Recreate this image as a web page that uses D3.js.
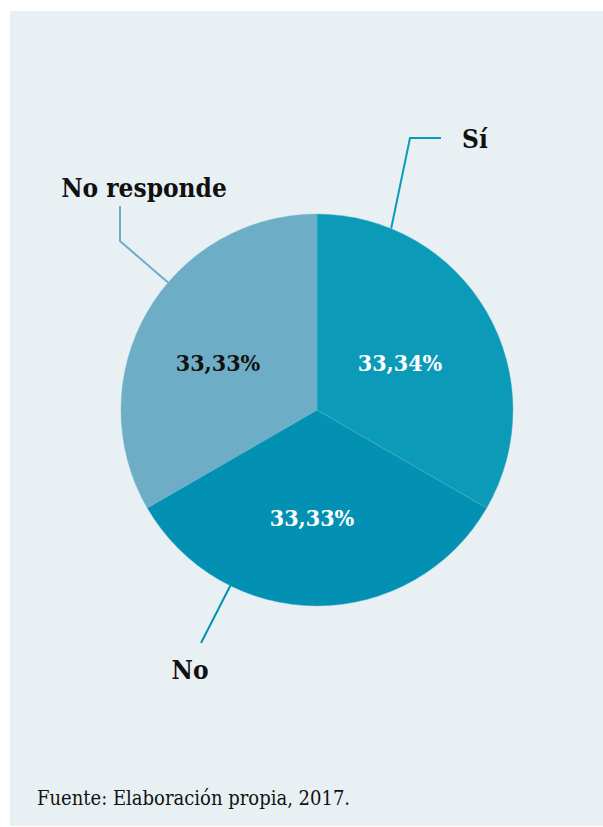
<!DOCTYPE html>
<html lang="es">
<head>
    <meta charset="UTF-8">
    <title>Gráfico circular</title>
    <script src="https://d3js.org/d3.v7.min.js"></script>
    <style>
        body { margin: 0; background: #fff; }
        text { font-stretch: condensed; }
    </style>
</head>
<body>
    <svg width="603" height="827"></svg>
    <script>
        // datos
        const categories = ["Sí", "No", "No responde"];
        const values = [33.34, 33.33, 33.33];
        const pctLabels = ["33,34%", "33,33%", "33,33%"];
        const colors = ["#0c9ab9", "#0291b3", "#6daec6"];
        const labelColors = ["#fff", "#fff", "#111"];

        const serif = "'DejaVu Serif Condensed', 'DejaVu Serif', serif";

        const svg = d3.select("svg");
        svg.append("rect")
           .attr("x", 10).attr("y", 11)
           .attr("width", 593).attr("height", 815)
           .attr("fill", "#e8f0f3");

        const cx = 317, cy = 410, r = 196;
        const g = svg.append("g").attr("transform", `translate(${cx},${cy})`);

        const data = categories.map((c, i) => ({ cat: c, value: values[i], i }));
        const pie = d3.pie().value(d => d.value).sort(null);
        const arcs = pie(data);
        const arc = d3.arc().innerRadius(0).outerRadius(r);

        g.selectAll("path.slice")
         .data(arcs)
         .enter().append("path")
         .attr("class", "slice")
         .attr("d", arc)
         .attr("fill", d => colors[d.data.i])
         .attr("stroke", "#5fb3cc")
         .attr("stroke-width", 0.4);

        // etiquetas de porcentaje
        const pctPos = [[83, -39], [-5, 116], [-99, -39]];
        g.selectAll("text.pct")
         .data(arcs)
         .enter().append("text")
         .attr("class", "pct")
         .attr("x", d => pctPos[d.data.i][0])
         .attr("y", d => pctPos[d.data.i][1])
         .attr("text-anchor", "middle")
         .attr("font-family", serif)
         .attr("font-size", 23)
         .attr("font-weight", "bold")
         .attr("fill", d => labelColors[d.data.i])
         .text(d => pctLabels[d.data.i]);

        // líneas guía y nombres de categoría
        const leaderAngle = [0.388, 3.60, 5.42];
        const leaders = [
            { pts: [[93, -272], [124, -272]], label: [158, -262] },
            { pts: [[-116, 233]], label: [-127, 269] },
            { pts: [[-197, -169], [-197, -204]], label: [-173, -213] }
        ];
        arcs.forEach(d => {
            const i = d.data.i;
            const a = leaderAngle[i];
            const start = [r * Math.sin(a), -r * Math.cos(a)];
            const pts = [start].concat(leaders[i].pts);
            g.append("path")
             .attr("d", d3.line()(pts))
             .attr("fill", "none")
             .attr("stroke", colors[i])
             .attr("stroke-width", 2);
            g.append("text")
             .attr("x", leaders[i].label[0])
             .attr("y", leaders[i].label[1])
             .attr("text-anchor", "middle")
             .attr("font-family", serif)
             .attr("font-size", 26)
             .attr("font-weight", "bold")
             .attr("fill", "#111")
             .text(d.data.cat);
        });

        svg.append("text")
           .attr("x", 37).attr("y", 805)
           .attr("font-family", serif)
           .attr("font-size", 20)
           .attr("fill", "#111")
           .text("Fuente: Elaboración propia, 2017.");
    </script>
</body>
</html>
